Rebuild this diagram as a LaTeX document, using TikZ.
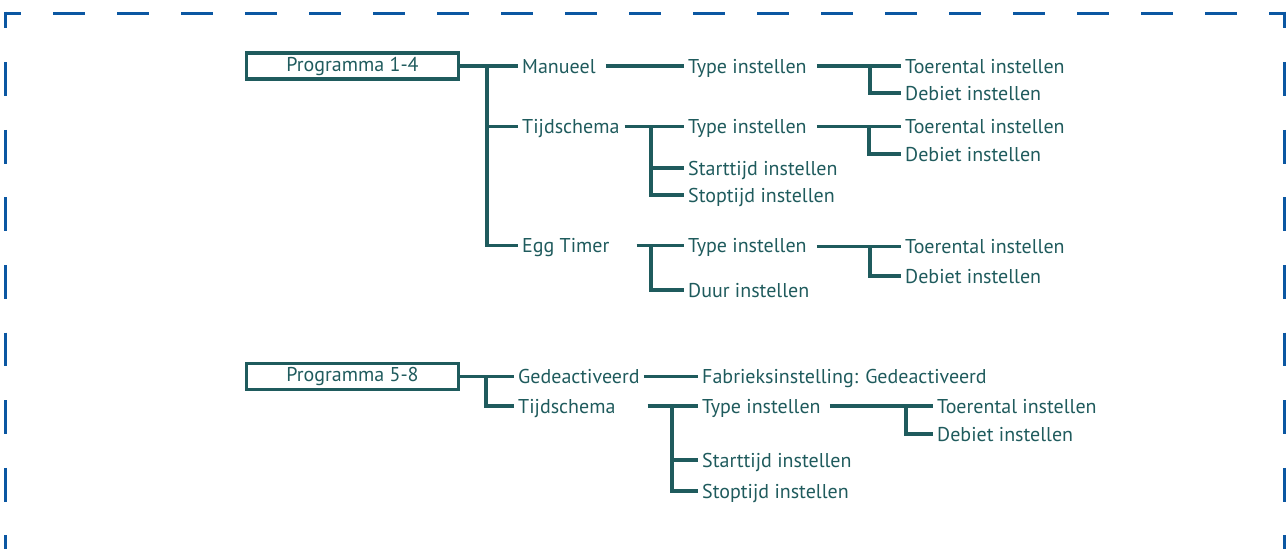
\documentclass[tikz,border=0pt]{standalone}
\usepackage{fontspec}
\setmainfont{PT Sans}
\usetikzlibrary{positioning}
\definecolor{treeteal}{HTML}{1F5B5D}
\definecolor{frameblue}{HTML}{0B57A2}

\begin{document}
\begin{tikzpicture}[x=1pt, y=-1pt,
	lbl/.style={anchor=west, text=treeteal, font=\fontsize{20pt}{22pt}\selectfont,
		text height=14pt, text depth=0pt, inner xsep=4pt, inner ysep=0pt},
	progbox/.style={rectangle, draw=treeteal, line width=3.2pt, text=treeteal,
		minimum width=212pt, minimum height=26pt, inner sep=0pt,
		font=\fontsize{20pt}{22pt}\selectfont},
	conn/.style={draw=treeteal, line width=3.2pt},
	framedash/.style={draw=frameblue, line width=3pt}]
	\useasboundingbox (0,0) rectangle (1287,549);

	% dashed frame, open at the bottom
	\draw[framedash, dash pattern=on 32pt off 32pt, dash phase=16pt] (5,13) -- (1285,13);
	\draw[framedash, dash pattern=on 33.8pt off 33.8pt, dash phase=16.9pt] (5.5,11.5) -- (5.5,549);
	\draw[framedash, dash pattern=on 33.8pt off 33.8pt, dash phase=16.9pt] (1284.5,11.5) -- (1284.5,549);

	% Programma 1-4
	\node[progbox] (prog1) at (352.5,66) {Programma 1-4};
	\coordinate (trunk1) at (487,66);
	\node[lbl] (man) at (518,66) {Manueel};
	\node[lbl] (tijd1) at (518,126.5) {Tijdschema};
	\node[lbl] (egg) at (518,245.5) {Egg Timer};
	\draw[conn] (prog1.east) -- (man.west);
	\draw[conn] (trunk1) |- (tijd1.west);
	\draw[conn] (trunk1) |- (egg.west);

	\node[lbl] (type1) at (684,66) {Type instellen};
	\node[lbl] (toer1) at (901,66) {Toerental instellen};
	\node[lbl] (deb1) at (901,93) {Debiet instellen};
	\draw[conn] ([xshift=6pt]man.east) -- (type1.west);
	\draw[conn] ([xshift=6pt]type1.east) -- (toer1.west);
	\draw[conn] (toer1.west -| 870,0) |- (deb1.west);

	\node[lbl] (type2) at (684,126.5) {Type instellen};
	\node[lbl] (start1) at (684,168) {Starttijd instellen};
	\node[lbl] (stop1) at (684,195) {Stoptijd instellen};
	\node[lbl] (toer2) at (901,126.5) {Toerental instellen};
	\node[lbl] (deb2) at (901,154) {Debiet instellen};
	\coordinate (jtijd1) at (651,126.5);
	\draw[conn] ([xshift=1pt]tijd1.east) -- (type2.west);
	\draw[conn] (jtijd1) |- (start1.west);
	\draw[conn] (jtijd1) |- (stop1.west);
	\draw[conn] ([xshift=6pt]type2.east) -- (toer2.west);
	\draw[conn] (toer2.west -| 869,0) |- (deb2.west);

	\node[lbl] (type3) at (684,245.5) {Type instellen};
	\node[lbl] (duur) at (684,290) {Duur instellen};
	\node[lbl] (toer3) at (901,246.5) {Toerental instellen};
	\node[lbl] (deb3) at (901,276) {Debiet instellen};
	\coordinate (jegg) at (651,245.5);
	\draw[conn] ([xshift=23pt]egg.east) -- (type3.west);
	\draw[conn] (jegg) |- (duur.west);
	\draw[conn] ([xshift=6pt]type3.east |- toer3.west) -- (toer3.west);
	\draw[conn] (toer3.west -| 870,0) |- (deb3.west);

	% Programma 5-8
	\node[progbox] (prog2) at (352.5,376.5) {Programma 5-8};
	\coordinate (trunk2) at (486,376.5);
	\node[lbl] (gede) at (514,376.5) {Gedeactiveerd};
	\node[lbl] (tijd2) at (514,406) {Tijdschema};
	\draw[conn] (prog2.east) -- (gede.west);
	\draw[conn] (trunk2) |- (tijd2.west);

	\node[lbl] (fab) at (698,376.5) {Fabrieksinstelling: Gedeactiveerd};
	\draw[conn] (gede.east) -- (fab.west);

	\node[lbl] (type4) at (698,406) {Type instellen};
	\node[lbl] (start2) at (698,460) {Starttijd instellen};
	\node[lbl] (stop2) at (698,491) {Stoptijd instellen};
	\coordinate (jtijd2) at (672,406);
	\draw[conn] ([xshift=28pt]tijd2.east) -- (type4.west);
	\draw[conn] (jtijd2) |- (start2.west);
	\draw[conn] (jtijd2) |- (stop2.west);

	\node[lbl] (toer4) at (933,406) {Toerental instellen};
	\node[lbl] (deb4) at (933,434) {Debiet instellen};
	\draw[conn] ([xshift=5pt]type4.east) -- (toer4.west);
	\draw[conn] (toer4.west -| 906,0) |- (deb4.west);
\end{tikzpicture}
\end{document}
